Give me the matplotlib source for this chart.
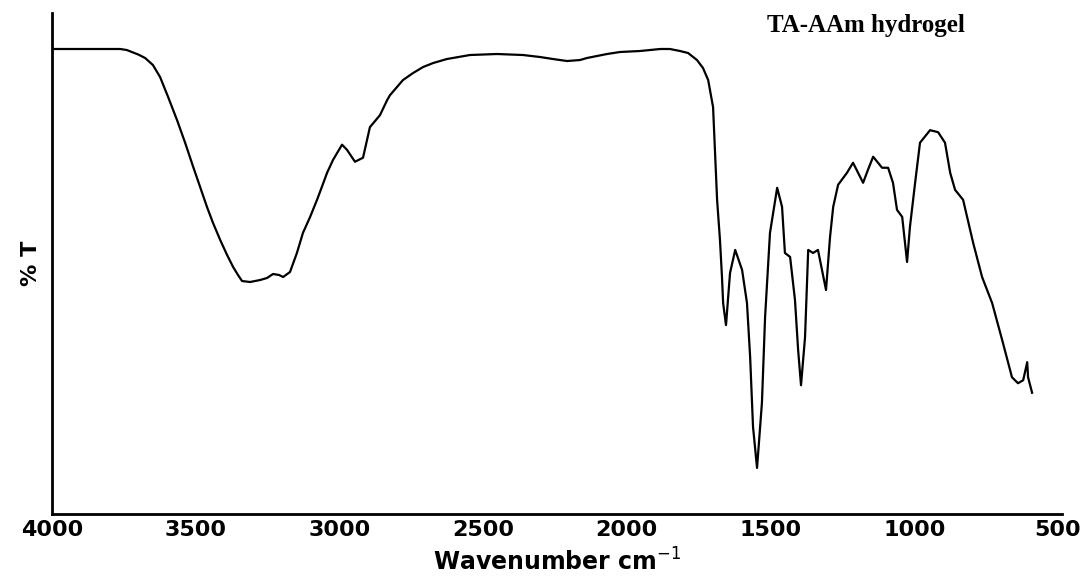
import numpy as np, matplotlib
matplotlib.use("Agg")
import matplotlib.pyplot as plt

# FTIR spectrum of TA-AAm hydrogel
wavenumber = [4000, 3763, 3740, 3718, 3700, 3676, 3649, 3624, 3596, 3565, 3537, 3509, 3485, 3461, 3440, 3415,
              3391, 3370, 3353, 3339, 3311, 3276, 3252, 3231, 3210, 3196, 3172, 3148, 3127, 3102,
              3078, 3061, 3043, 3022, 2991, 2974, 2946, 2918, 2894, 2859, 2834, 2824, 2800, 2779,
              2744, 2709, 2674, 2626, 2546, 2452, 2361, 2302, 2257, 2208, 2163, 2139, 2069, 2024,
              1954, 1884, 1850, 1815, 1787, 1756, 1735, 1717, 1700,
              1686, 1676, 1669, 1665, 1655, 1641, 1623, 1599, 1582, 1571, 1561, 1547, 1530, 1519,
              1502, 1477, 1460, 1450, 1432, 1415, 1404, 1394, 1380, 1369, 1352, 1335, 1307, 1293,
              1282, 1265, 1234, 1213, 1178, 1161, 1143, 1112, 1091, 1074, 1060, 1042, 1025, 1015,
              997, 980, 945, 917, 893, 875, 858, 830, 795, 764, 729, 694, 660, 639, 621, 607, 604, 590]
transmittance = [92.8, 92.8, 92.6, 92.1, 91.7, 91.0, 89.6, 87.2, 83.2, 78.6, 74.1, 69.3, 65.3, 61.3, 58.1, 54.7,
                 51.7, 49.3, 47.7, 46.5, 46.3, 46.7, 47.1, 47.9, 47.7, 47.3, 48.3, 52.1, 56.1, 59.3,
                 62.7, 65.3, 68.1, 70.7, 73.7, 72.7, 70.3, 71.1, 77.2, 79.6, 82.6, 83.6, 85.2, 86.6,
                 88.0, 89.2, 90.0, 90.8, 91.6, 91.8, 91.6, 91.2, 90.8, 90.4, 90.6, 91.0, 91.8, 92.2,
                 92.4, 92.8, 92.8, 92.4, 92.0, 90.6, 89.0, 86.6, 81.2,
                 62.7, 54.7, 47.3, 42.1, 37.7, 48.1, 52.7, 48.7, 42.1, 31.3, 17.4, 9.2, 22.2, 39.3,
                 56.1, 65.1, 61.3, 52.1, 51.3, 42.7, 32.7, 25.7, 35.3, 52.7, 52.1, 52.7, 44.7, 55.3,
                 61.3, 65.7, 68.1, 70.1, 66.1, 68.7, 71.3, 69.1, 69.1, 66.1, 60.7, 59.3, 50.3, 57.3,
                 66.1, 74.1, 76.6, 76.2, 74.1, 68.1, 64.7, 62.7, 54.1, 47.3, 42.1, 34.7, 27.3, 26.1,
                 26.7, 30.3, 27.3, 24.2]
xticks = [4000, 3500, 3000, 2500, 2000, 1500, 1000, 500]

fig = plt.figure(figsize=(10.91, 5.82), dpi=100)
ax = fig.add_axes([0.0477, 0.1168, 0.9257, 0.861])
ax.plot(wavenumber, transmittance, color="black", lw=1.6, solid_joinstyle="round")
ax.set_xlim(4000, 486); ax.set_ylim(0, 100)
ax.set_xticks(xticks)
ax.set_xticklabels([str(t) for t in xticks], fontsize=16, fontweight="bold")
ax.tick_params(axis="x", length=0, pad=4)
ax.set_yticks([])
for s in ["top", "right"]: ax.spines[s].set_visible(False)
for s in ["left", "bottom"]: ax.spines[s].set_linewidth(2)
ax.set_xlabel("Wavenumber cm$^{-1}$", fontsize=17, fontweight="bold", labelpad=6)
ax.set_ylabel("% T", fontsize=16, fontweight="bold", labelpad=8)
ax.text(0.806, 0.975, "TA-AAm hydrogel", transform=ax.transAxes, ha="center", va="center",
        fontsize=18, fontweight="bold", family="Liberation Serif")
fig.savefig("out.png", dpi=100, facecolor="white")
